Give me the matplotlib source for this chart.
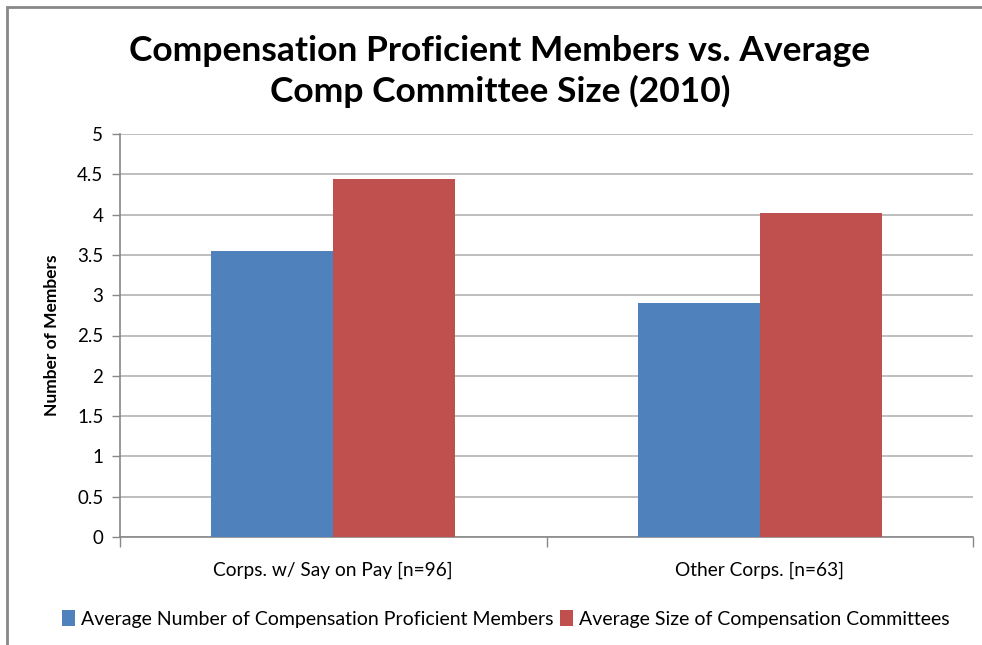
import matplotlib.pyplot as plt
from matplotlib.patches import Rectangle
import numpy as np

categories = ["Corps. w/ Say on Pay [n=96]", "Other Corps. [n=63]"]
proficient = [3.55, 2.90]
committee = [4.44, 4.02]
series_names = ["Average Number of Compensation Proficient Members",
                "Average Size of Compensation Committees"]
yticks = [0, 0.5, 1, 1.5, 2, 2.5, 3, 3.5, 4, 4.5, 5]

plt.rcParams["font.family"] = ["Lato", "DejaVu Sans"]

fig = plt.figure(figsize=(9.82, 6.45), dpi=100)
ax = fig.add_axes([120 / 982, 1 - 537 / 645, 853 / 982, 403 / 645])

x = np.arange(len(categories))
w = 1 / 3.5
ax.bar(x - w / 2, proficient, w, color="#4F81BD", label=series_names[0], zorder=3)
ax.bar(x + w / 2, committee, w, color="#C0504D", label=series_names[1], zorder=3)

ax.set_xlim(-0.5, len(categories) - 0.5)
ax.set_ylim(0, 5)
ax.set_yticks(yticks)
ax.set_yticklabels([f"{t:g}" for t in yticks], fontsize=13.5)
ax.yaxis.grid(True, color="#b3b3b3", linewidth=1.2, zorder=0)

# category labels centred, tick marks between categories
ax.set_xticks(x)
ax.set_xticklabels(categories, fontsize=13.8)
ax.tick_params(axis="x", length=0, pad=18)
ax.set_xticks([-0.5, 0.5, 1.5], minor=True)
ax.tick_params(axis="x", which="minor", length=7, color="#888888", width=1)
ax.tick_params(axis="y", length=6, color="#888888", width=1, pad=6)

for side in ["top", "right"]:
    ax.spines[side].set_visible(False)
for side in ["left", "bottom"]:
    ax.spines[side].set_color("#888888")
    ax.spines[side].set_linewidth(1.2)

ax.set_ylabel("Number of Members", fontsize=12.5, fontweight="bold", labelpad=12)

fig.text(0.509, 0.889, "Compensation Proficient Members vs. Average\nComp Committee Size (2010)",
         ha="center", va="center", fontsize=25.5, fontweight="bold", linespacing=1.32)

fig.legend(loc="center", bbox_to_anchor=(0.515, 1 - 619 / 645), ncol=2, frameon=False,
           fontsize=14, handlelength=0.7, handleheight=0.9, handletextpad=0.3,
           columnspacing=0.3)

# outer chart border (left and top visible)
fig.patches.append(Rectangle((7 / 982, -0.1), 1.2, 1 - 7 / 645 + 0.1, transform=fig.transFigure,
                             fill=False, edgecolor="#888888", linewidth=2))

fig.savefig("out.png", dpi=100)
